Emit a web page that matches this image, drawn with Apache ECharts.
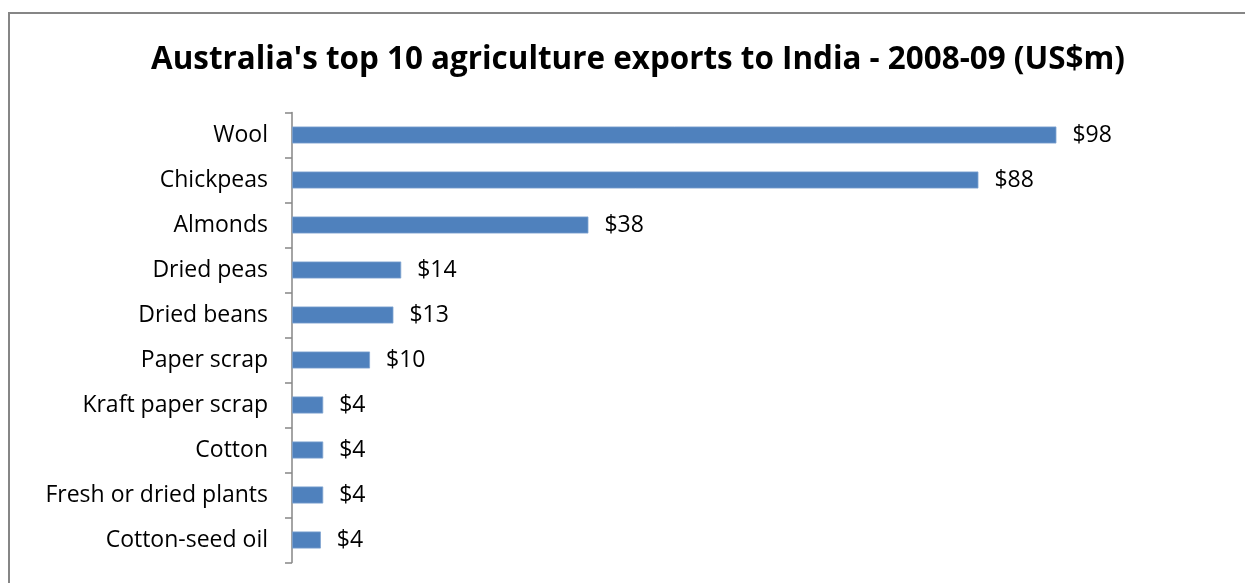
<!DOCTYPE html>
<html><head><meta charset="utf-8">
<script src="https://cdn.jsdelivr.net/npm/echarts@6/dist/echarts.min.js"></script>
<style>html,body{margin:0;padding:0;background:#fff}#c{width:1245px;height:583px}</style>
</head><body><div id="c"></div>
<script>
const categories = ["Wool","Chickpeas","Almonds","Dried peas","Dried beans","Paper scrap","Kraft paper scrap","Cotton","Fresh or dried plants","Cotton-seed oil"];
const values = [98, 88, 38, 14, 13, 10, 4, 4, 4, 3.7];
const titleText = "Australia's top 10 agriculture exports to India - 2008-09 (US$m)";
const chart = echarts.init(document.getElementById('c'));
chart.setOption({
  animation:false,
  backgroundColor:'#fff',
  title:{text:titleText,left:146,top:40,textStyle:{fontFamily:'Open Sans',fontWeight:'bold',fontSize:31.4,color:'#000'}},
  graphic:[{type:'rect',shape:{x:9,y:13,width:1400,height:800},style:{fill:'none',stroke:'#868686',lineWidth:2},silent:true}],
  grid:{left:292,right:173,top:112.5,bottom:583-562.5},
  xAxis:{type:'value',min:0,max:100,show:false},
  yAxis:{type:'category',data:categories,inverse:true,
    axisLine:{lineStyle:{color:'#868686',width:1.5}},
    axisTick:{show:true,length:7,lineStyle:{color:'#868686',width:1.5}},
    axisLabel:{fontFamily:'Open Sans',fontSize:23,color:'#000',margin:24}},
  series:[{type:'bar',data:values,barWidth:17,
    itemStyle:{color:'#4F81BD',borderColor:'#7FA3D0',borderWidth:0.8},
    label:{show:true,position:'right',distance:16,fontFamily:'Open Sans',fontSize:23,color:'#000',
      formatter:p=>'$'+Math.round(p.value)}}]
});
</script></body></html>
